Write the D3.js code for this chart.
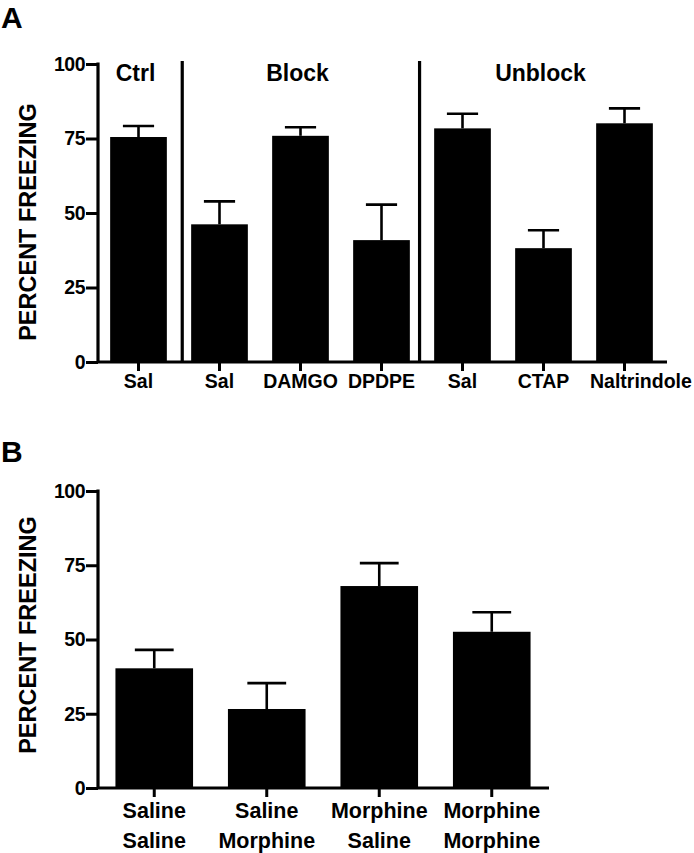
<!DOCTYPE html>
<html>
<head>
<meta charset="utf-8">
<script src="https://cdn.jsdelivr.net/npm/d3@7"></script>
<style>
  html, body { margin: 0; padding: 0; background: #fff; }
  svg { display: block; }
  text { font-family: "Liberation Sans", Arial, Helvetica, sans-serif; font-weight: bold; fill: #000; }
</style>
</head>
<body>
<svg id="chart" width="694" height="853"></svg>
<script>
// ---------- DATA ----------
const categoriesA = ["Sal", "Sal", "DAMGO", "DPDPE", "Sal", "CTAP", "Naltrindole"];
const valuesA = [75.5, 46.2, 75.9, 40.9, 78.4, 38.2, 80.1];
const errorsA = [3.7, 7.7, 2.9, 11.9, 4.9, 6.0, 5.0];
const groupNamesA = ["Ctrl", "Block", "Unblock"];
const groupStartA = [0, 1, 4];
const groupEndA = [1, 4, 7];
const separatorsA = [1.04, 3.97]; // in band units

const categoriesB = [["Saline", "Saline"], ["Saline", "Morphine"], ["Morphine", "Saline"], ["Morphine", "Morphine"]];
const valuesB = [40.3, 26.6, 68.0, 52.6];
const errorsB = [6.2, 8.7, 7.7, 6.6];

const yTicks = [0, 25, 50, 75, 100];
const yTitle = "PERCENT FREEZING";

// ---------- DRAW ----------
const W = 694;
const svg = d3.select("#chart");

function panel(opts) {
  const g = svg.append("g");
  const n = opts.values.length;
  const idx = d3.range(n);
  const x = d3.scaleBand().domain(idx).range([opts.x0, opts.x1]).padding(0);
  const y = d3.scaleLinear().domain([0, 100]).range([opts.y0, opts.y1]);
  const bw = x.bandwidth() * opts.barFrac;
  const cx = i => x(i) + x.bandwidth() / 2;

  // bars
  g.selectAll("rect.bar").data(idx).join("rect")
    .attr("x", i => cx(i) - bw / 2)
    .attr("width", bw)
    .attr("y", i => y(opts.values[i]))
    .attr("height", i => y(0) - y(opts.values[i]))
    .attr("fill", "#000");

  // error bars
  const capW = bw * opts.capFrac;
  g.selectAll("line.err").data(idx).join("line")
    .attr("x1", cx).attr("x2", cx)
    .attr("y1", i => y(opts.values[i]))
    .attr("y2", i => y(opts.values[i] + opts.errors[i]))
    .attr("stroke", "#000").attr("stroke-width", 2.6);
  g.selectAll("line.cap").data(idx).join("line")
    .attr("x1", i => cx(i) - capW / 2).attr("x2", i => cx(i) + capW / 2)
    .attr("y1", i => y(opts.values[i] + opts.errors[i]))
    .attr("y2", i => y(opts.values[i] + opts.errors[i]))
    .attr("stroke", "#000").attr("stroke-width", 2.6);

  // y axis
  const yAxis = d3.axisLeft(y).tickValues(yTicks).tickSize(12).tickSizeOuter(0).tickPadding(1);
  const ya = g.append("g").attr("transform", `translate(${opts.x0},0)`).call(yAxis);
  ya.select(".domain").attr("stroke-width", 3.2).attr("d", `M0,${y(100) - 1.5}V${y(0)}`);
  ya.selectAll(".tick line").attr("stroke-width", 3);
  ya.selectAll(".tick text").style("font-size", "19.5px").style("font-family", '"Liberation Sans", Arial, sans-serif')
    .style("font-weight", "bold").attr("fill", "#000").attr("letter-spacing", "-0.5px");

  // x axis
  const xAxis = d3.axisBottom(x).tickSize(9).tickSizeOuter(0).tickFormat(() => "");
  const xa = g.append("g").attr("transform", `translate(0,${opts.y0})`).call(xAxis);
  xa.select(".domain").attr("stroke-width", 3.2).attr("d", `M${opts.x0},0H${opts.xEnd}`);
  xa.selectAll(".tick line").attr("stroke-width", 3);

  // x labels
  const lab = g.selectAll("text.xl").data(idx).join("text")
    .attr("class", "xl")
    .attr("text-anchor", "middle")
    .style("font-size", opts.xFont + "px");
  lab.each(function (i) {
    const t = d3.select(this);
    const lines = Array.isArray(opts.cats[i]) ? opts.cats[i] : [opts.cats[i]];
    lines.forEach((s, k) => {
      t.append("tspan").attr("x", cx(i)).attr("y", opts.labelY + k * opts.lineH).text(s);
    });
    // a label wider than its band at the far right is pushed to the figure's right edge
    const bb = this.getBBox();
    if (i === n - 1 && bb.width > x.bandwidth() * 1.1) {
      const shift = (W - 2) - (bb.x + bb.width);
      t.attr("transform", `translate(${shift},0)`);
    }
  });

  // y title
  g.append("text")
    .attr("transform", `translate(${opts.titleX},${opts.titleCY}) rotate(-90)`)
    .attr("text-anchor", "middle")
    .style("font-size", "23.5px")
    .text(yTitle);

  // panel letter
  g.append("text").attr("x", 1).attr("y", opts.letterY).style("font-size", "30px").text(opts.letter);

  return { x, y, cx };
}

// Panel A
panel({
  values: valuesA, errors: errorsA, cats: categoriesA,
  x0: 98, x1: 665, xEnd: 667, y0: 362, y1: 64,
  barFrac: 0.70, capFrac: 0.55, xFont: 19.5, labelY: 388, lineH: 0,
  titleX: 36, titleCY: 222, letter: "A", letterY: 28
});
const bandA = d3.scaleLinear().domain([0, categoriesA.length]).range([98, 665]);
svg.append("g").selectAll("line").data(separatorsA).join("line")
  .attr("x1", d => bandA(d)).attr("x2", d => bandA(d))
  .attr("y1", 61).attr("y2", 362)
  .attr("stroke", "#000").attr("stroke-width", 3.2);
svg.append("g").selectAll("text").data(groupNamesA).join("text")
  .attr("x", (d, i) => bandA((groupStartA[i] + groupEndA[i]) / 2) - 3)
  .attr("y", 81)
  .attr("text-anchor", "middle")
  .style("font-size", "23px")
  .text(d => d);

// Panel B
panel({
  values: valuesB, errors: errorsB, cats: categoriesB,
  x0: 98, x1: 548, xEnd: 549, y0: 788, y1: 491,
  barFrac: 0.69, capFrac: 0.5, xFont: 21.5, labelY: 818, lineH: 30,
  titleX: 36, titleCY: 635, letter: "B", letterY: 462
});
</script>
</body>
</html>
